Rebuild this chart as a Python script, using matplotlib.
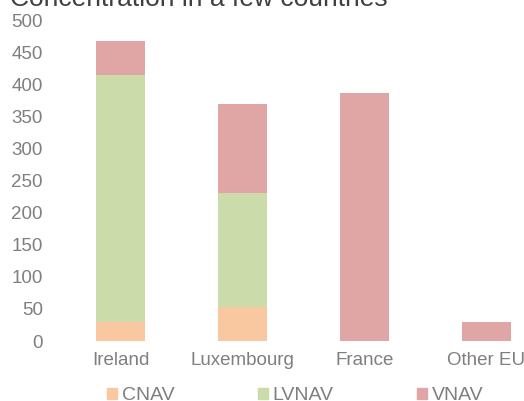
import numpy as np
import matplotlib
matplotlib.use('Agg')
import matplotlib.pyplot as plt
from matplotlib.patches import Patch

plt.rcParams['font.family'] = ['Liberation Sans', 'DejaVu Sans']

countries = ['Ireland', 'Luxembourg', 'France', 'Other EU']
cnav = [30, 53, 0, 0]
lvnav = [385, 178, 0, 0]
vnav = [53, 139, 387, 30]
y_ticks = [0, 50, 100, 150, 200, 250, 300, 350, 400, 450, 500]

col_cnav = '#FAC8A0'
col_lvnav = '#CCDBAA'
col_vnav = '#E0A5A5'
txt_grey = '#7F7F7F'

fig = plt.figure(figsize=(5.24, 4.01), dpi=100)
# plot area runs past the right edge, as in the cropped original
ax = fig.add_axes([0.1136, 0.1496, 0.9313, 0.7995])

x = np.arange(len(countries))
w = 0.4
bottom2 = np.array(cnav) + np.array(lvnav)
ax.bar(x, cnav, w, color=col_cnav)
ax.bar(x, lvnav, w, bottom=cnav, color=col_lvnav)
ax.bar(x, vnav, w, bottom=bottom2, color=col_vnav)

ax.set_xlim(-0.5, len(countries) - 0.5)
ax.set_ylim(0, 500)
ax.set_yticks(y_ticks)
ax.set_xticks(x)
ax.set_xticklabels(countries)
for s in ax.spines.values():
    s.set_visible(False)
ax.tick_params(axis='y', length=0, pad=12, labelsize=13.5, labelcolor=txt_grey)
ax.tick_params(axis='x', length=0, pad=8, labelsize=13.5, labelcolor=txt_grey)

fig.text(10 / 524, 1 - 6 / 401, 'Concentration in a few countries',
         fontsize=19, color='#404040', ha='left', va='baseline')

handles = [Patch(color=col_cnav, label='CNAV'),
           Patch(color=col_lvnav, label='LVNAV'),
           Patch(color=col_vnav, label='VNAV')]
fig.legend(handles=handles, loc='lower left', bbox_to_anchor=(107 / 524, -3 / 401),
           ncol=3, frameon=False, fontsize=14, labelcolor=txt_grey,
           handlelength=0.5, handleheight=0.5, handletextpad=0.25,
           columnspacing=4.3, borderpad=0, borderaxespad=0)

fig.savefig('out.png', dpi=100)
